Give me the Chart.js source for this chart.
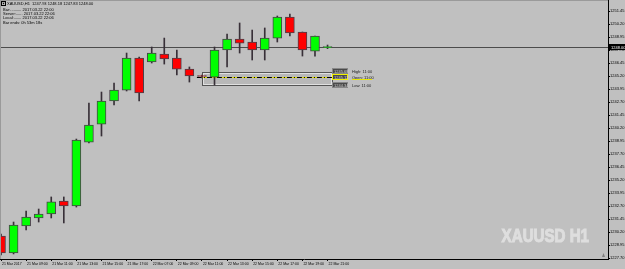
<!DOCTYPE html>
<html>
<head>
<meta charset="utf-8">
<script src="https://cdn.jsdelivr.net/npm/chart.js@4.4.0/dist/chart.umd.min.js"></script>
<style>
html, body { margin:0; padding:0; background:#c0c0c0; }
canvas { display:block; }
</style>
</head>
<body>
<canvas id="myChart" width="625" height="269"></canvas>
<script>
// XAUUSD H1 candles
var barTimes = ['21 Mar 07:00','21 Mar 08:00','21 Mar 09:00','21 Mar 10:00','21 Mar 11:00','21 Mar 12:00',
  '21 Mar 13:00','21 Mar 14:00','21 Mar 15:00','21 Mar 16:00','21 Mar 17:00','21 Mar 18:00',
  '22 Mar 07:00','22 Mar 08:00','22 Mar 09:00','22 Mar 10:00','22 Mar 11:00','22 Mar 12:00',
  '22 Mar 13:00','22 Mar 14:00','22 Mar 15:00','22 Mar 16:00','22 Mar 17:00','22 Mar 18:00',
  '22 Mar 19:00','22 Mar 20:00','22 Mar 21:00'];
var opens  = [1229.82,1228.18,1230.78,1231.55,1231.93,1233.18,1232.70,1238.85,1240.58,1242.80,1243.85,1246.93,
  1246.55,1247.32,1246.93,1245.87,1245.20,1245.10,1247.70,1248.76,1248.47,1247.70,1248.85,1250.87,1249.43,1247.60,1247.93];
var highs  = [1230.01,1231.16,1232.22,1232.41,1233.57,1233.57,1239.14,1242.60,1243.66,1244.53,1247.41,1247.03,
  1247.99,1248.85,1247.70,1246.07,1245.30,1247.99,1249.24,1250.30,1249.62,1249.82,1250.97,1251.16,1249.43,1249.05,1248.18];
var lows   = [1227.99,1228.09,1230.39,1231.16,1231.55,1231.07,1232.60,1238.76,1239.43,1242.41,1243.76,1242.80,
  1246.45,1246.35,1245.30,1244.62,1245.01,1244.34,1246.07,1247.41,1246.74,1246.74,1248.47,1249.05,1247.12,1247.12,1247.83];
var closes = [1228.18,1230.87,1231.64,1231.93,1233.09,1232.70,1239.05,1240.49,1242.80,1243.85,1246.93,1243.57,
  1247.41,1246.84,1245.87,1245.20,1245.15,1247.70,1248.76,1248.37,1247.70,1248.85,1250.87,1249.34,1247.70,1249.05,1248.00];

var xTickBars = [0,2,4,6,8,10,12,14,16,18,20,22,24,26];
var xTickLabels = ['21 Mar 2017','21 Mar 09:00','21 Mar 11:00','21 Mar 13:00','21 Mar 15:00','21 Mar 17:00',
  '22 Mar 07:00','22 Mar 09:00','22 Mar 11:00','22 Mar 13:00','22 Mar 15:00','22 Mar 17:00','22 Mar 19:00','22 Mar 21:00'];
var yTicks = [1227.70,1228.95,1230.20,1231.45,1232.70,1233.95,1235.20,1236.45,1237.70,1238.95,
  1240.20,1241.45,1242.70,1243.95,1245.20,1246.45,1247.70,1248.95,1250.20,1251.45];

// rectangle + levels drawn on the chart
var boxBars = [16, 26.35];
var boxPrices = [1245.58, 1244.34];
var levelNames = ['High: 11:00', 'Open: 11:00', 'Low: 11:00'];
var levelValues = [1245.68, 1245.12, 1244.34];
var dashStartBar = 15.6;

var infoLines = ['XAUUSD,H1  1247.93 1248.18 1247.83 1248.00',
  'Bar:.......... 2017.03.22 22:00',
  'Server:...... 2017.03.22 22:06',
  'Local:....... 2017.03.22 22:06',
  'Bar ends: 0h 53m 18s'];
var watermark = 'XAUUSD H1';

var bidPrice = closes[closes.length - 1];
var FONT = "'Liberation Sans', Arial, sans-serif";

var wickData = [], bodyData = [], bodyColors = [];
for (var i = 0; i < barTimes.length; i++) {
  wickData.push({x: i, y: [lows[i], highs[i]]});
  bodyData.push({x: i, y: [opens[i], closes[i]]});
  bodyColors.push(closes[i] >= opens[i] ? '#00ff00' : '#ff0000');
}

var mt4Extras = {
  id: 'mt4Extras',
  beforeDraw: function(chart) {
    var ctx = chart.ctx;
    ctx.save();
    ctx.fillStyle = '#c0c0c0';
    ctx.fillRect(0, 0, chart.width, chart.height);
    ctx.restore();
  },
  beforeDatasetsDraw: function(chart) {
    var ctx = chart.ctx, xs = chart.scales.x, ys = chart.scales.y, area = chart.chartArea;
    ctx.save();
    // watermark
    ctx.fillStyle = '#dedede';
    ctx.strokeStyle = '#dedede';
    ctx.lineWidth = 1;
    ctx.font = 'bold 18px ' + FONT;
    ctx.textAlign = 'right';
    ctx.textBaseline = 'alphabetic';
    ctx.translate(area.right - 19, area.bottom - 17);
    ctx.scale(0.84, 1);
    ctx.fillText(watermark, 0, 0);
    ctx.strokeText(watermark, 0, 0);
    ctx.setTransform(1, 0, 0, 1, 0, 0);

    // bid line
    var by = Math.round(ys.getPixelForValue(bidPrice)) + 0.5;
    ctx.strokeStyle = '#4c4c4c';
    ctx.lineWidth = 1;
    ctx.beginPath();
    ctx.moveTo(area.left, by);
    ctx.lineTo(area.right, by);
    ctx.stroke();

    // rectangle
    var rx1 = Math.round(xs.getPixelForValue(boxBars[0])) + 0.5;
    var rx2 = Math.round(xs.getPixelForValue(boxBars[1])) + 0.5;
    var ry1 = Math.round(ys.getPixelForValue(boxPrices[0])) + 0.5;
    var ry2 = Math.round(ys.getPixelForValue(boxPrices[1])) + 0.5;
    ctx.fillStyle = 'rgba(0,0,0,0.04)';
    ctx.fillRect(rx1, ry1, rx2 - rx1, ry2 - ry1);
    ctx.strokeStyle = '#555555';
    ctx.strokeRect(rx1, ry1, rx2 - rx1, ry2 - ry1);
    ctx.strokeStyle = '#e0e0e0';
    ctx.strokeRect(rx1 + 1, ry1 + 1, rx2 - rx1 - 2, ry2 - ry1 - 2);

    // dashed level line
    var dy = Math.round(ys.getPixelForValue(levelValues[1])) + 0.5;
    var dx1 = xs.getPixelForValue(dashStartBar);
    ctx.strokeStyle = '#e8e800';
    ctx.beginPath(); ctx.moveTo(dx1, dy); ctx.lineTo(rx2, dy); ctx.stroke();
    ctx.strokeStyle = '#000000';
    ctx.setLineDash([5, 2, 1, 2]);
    ctx.beginPath(); ctx.moveTo(dx1, dy); ctx.lineTo(rx2, dy); ctx.stroke();
    ctx.setLineDash([]);
    ctx.restore();
  },
  afterDraw: function(chart) {
    var ctx = chart.ctx, xs = chart.scales.x, ys = chart.scales.y, area = chart.chartArea;
    ctx.save();
    // level tags
    var rx2 = Math.round(xs.getPixelForValue(boxBars[1]));
    ctx.font = '4px ' + FONT;
    ctx.textBaseline = 'middle';
    for (var k = 0; k < levelValues.length; k++) {
      var ly = Math.round(ys.getPixelForValue(levelValues[k]));
      ctx.fillStyle = '#4a4a4a';
      ctx.fillRect(rx2, ly - 2, 15, 5);
      ctx.strokeStyle = k === 1 ? '#f0f000' : '#888888';
      ctx.strokeRect(rx2 + 0.5, ly - 2.5, 15, 5);
      ctx.fillStyle = '#d0d0d0';
      ctx.textAlign = 'left';
      ctx.fillText(levelValues[k].toFixed(2), rx2 + 2, ly + 0.5);
      ctx.fillStyle = '#202020';
      ctx.fillText(levelNames[k], rx2 + 20, ly + 0.5);
      if (k === 1) {
        ctx.fillStyle = '#e8e800';
        ctx.fillRect(rx2 + 20, ly + 2, 20, 1);
      }
    }

    // bid tag on the price axis
    var by = Math.round(ys.getPixelForValue(bidPrice));
    ctx.fillStyle = '#000000';
    ctx.fillRect(area.right + 1, by - 3, chart.width - area.right - 1, 6);
    ctx.fillStyle = '#ffffff';
    ctx.fillText(bidPrice.toFixed(2), area.right + 3, by + 0.5);

    // info text top-left
    ctx.fillStyle = '#000000';
    ctx.font = '4px ' + FONT;
    ctx.textBaseline = 'middle';
    var lineY = [4, 10, 14, 18, 23];
    for (var j = 0; j < infoLines.length; j++) {
      ctx.fillText(infoLines[j], j === 0 ? 7 : 3, lineY[j]);
    }
    ctx.strokeStyle = '#000000';
    ctx.strokeRect(1.5, 1.5, 4, 4);
    ctx.beginPath();
    ctx.moveTo(2.5, 2.8); ctx.lineTo(4.5, 2.8); ctx.lineTo(3.5, 4.5); ctx.closePath();
    ctx.fill();

    // window edges and chart shift marker
    ctx.fillStyle = '#9a9a9a';
    ctx.fillRect(0, 0, 1, area.bottom);
    ctx.fillRect(area.left, 0, area.right - area.left, 1);
    ctx.fillStyle = '#808080';
    ctx.beginPath();
    ctx.moveTo(area.right - 6, area.bottom - 2);
    ctx.lineTo(area.right - 3, area.bottom - 2);
    ctx.lineTo(area.right - 4.5, area.bottom - 6);
    ctx.closePath();
    ctx.fill();
    ctx.restore();
  }
};

var ctx = document.getElementById('myChart');
var myChart = new Chart(ctx, {
  type: 'bar',
  data: {
    datasets: [
      {
        label: 'bodies',
        data: bodyData,
        backgroundColor: bodyColors,
        borderColor: '#4a404a',
        borderWidth: 1,
        borderSkipped: false,
        barThickness: 9,
        minBarLength: 1,
        grouped: false,
        order: 0
      },
      {
        label: 'wicks',
        data: wickData,
        backgroundColor: '#383038',
        borderWidth: 0,
        barThickness: 1,
        grouped: false,
        order: 1
      }
    ]
  },
  options: {
    responsive: false,
    animation: false,
    devicePixelRatio: 1,
    layout: { padding: 0 },
    plugins: { legend: { display: false }, tooltip: { enabled: false } },
    scales: {
      x: {
        type: 'linear',
        position: 'bottom',
        offset: false,
        min: -0.08,
        max: 48.33,
        afterBuildTicks: function(scale) {
          scale.ticks = xTickBars.map(function(v) { return {value: v}; });
        },
        afterFit: function(scale) { scale.height = 10; },
        grid: { offset: false, drawOnChartArea: false, drawTicks: true, tickLength: 2, color: '#000000' },
        border: { display: true, color: '#000000' },
        ticks: {
          autoSkip: false,
          maxRotation: 0,
          align: 'start',
          padding: 1,
          color: '#000000',
          font: { family: FONT, size: 3.5 },
          callback: function(v, i) { return ' ' + xTickLabels[i]; }
        }
      },
      y: {
        type: 'linear',
        position: 'right',
        min: 1227.604,
        max: 1252.51,
        afterBuildTicks: function(scale) {
          scale.ticks = yTicks.map(function(v) { return {value: v}; });
        },
        afterFit: function(scale) { scale.width = 17; },
        grid: { drawOnChartArea: false, drawTicks: true, tickLength: 2, color: '#000000' },
        border: { display: true, color: '#000000' },
        ticks: {
          autoSkip: false,
          padding: 0,
          color: '#000000',
          font: { family: FONT, size: 4, lineHeight: 0 },
          callback: function(v) { return v.toFixed(2); }
        }
      }
    }
  },
  plugins: [mt4Extras]
});
</script>
</body>
</html>
